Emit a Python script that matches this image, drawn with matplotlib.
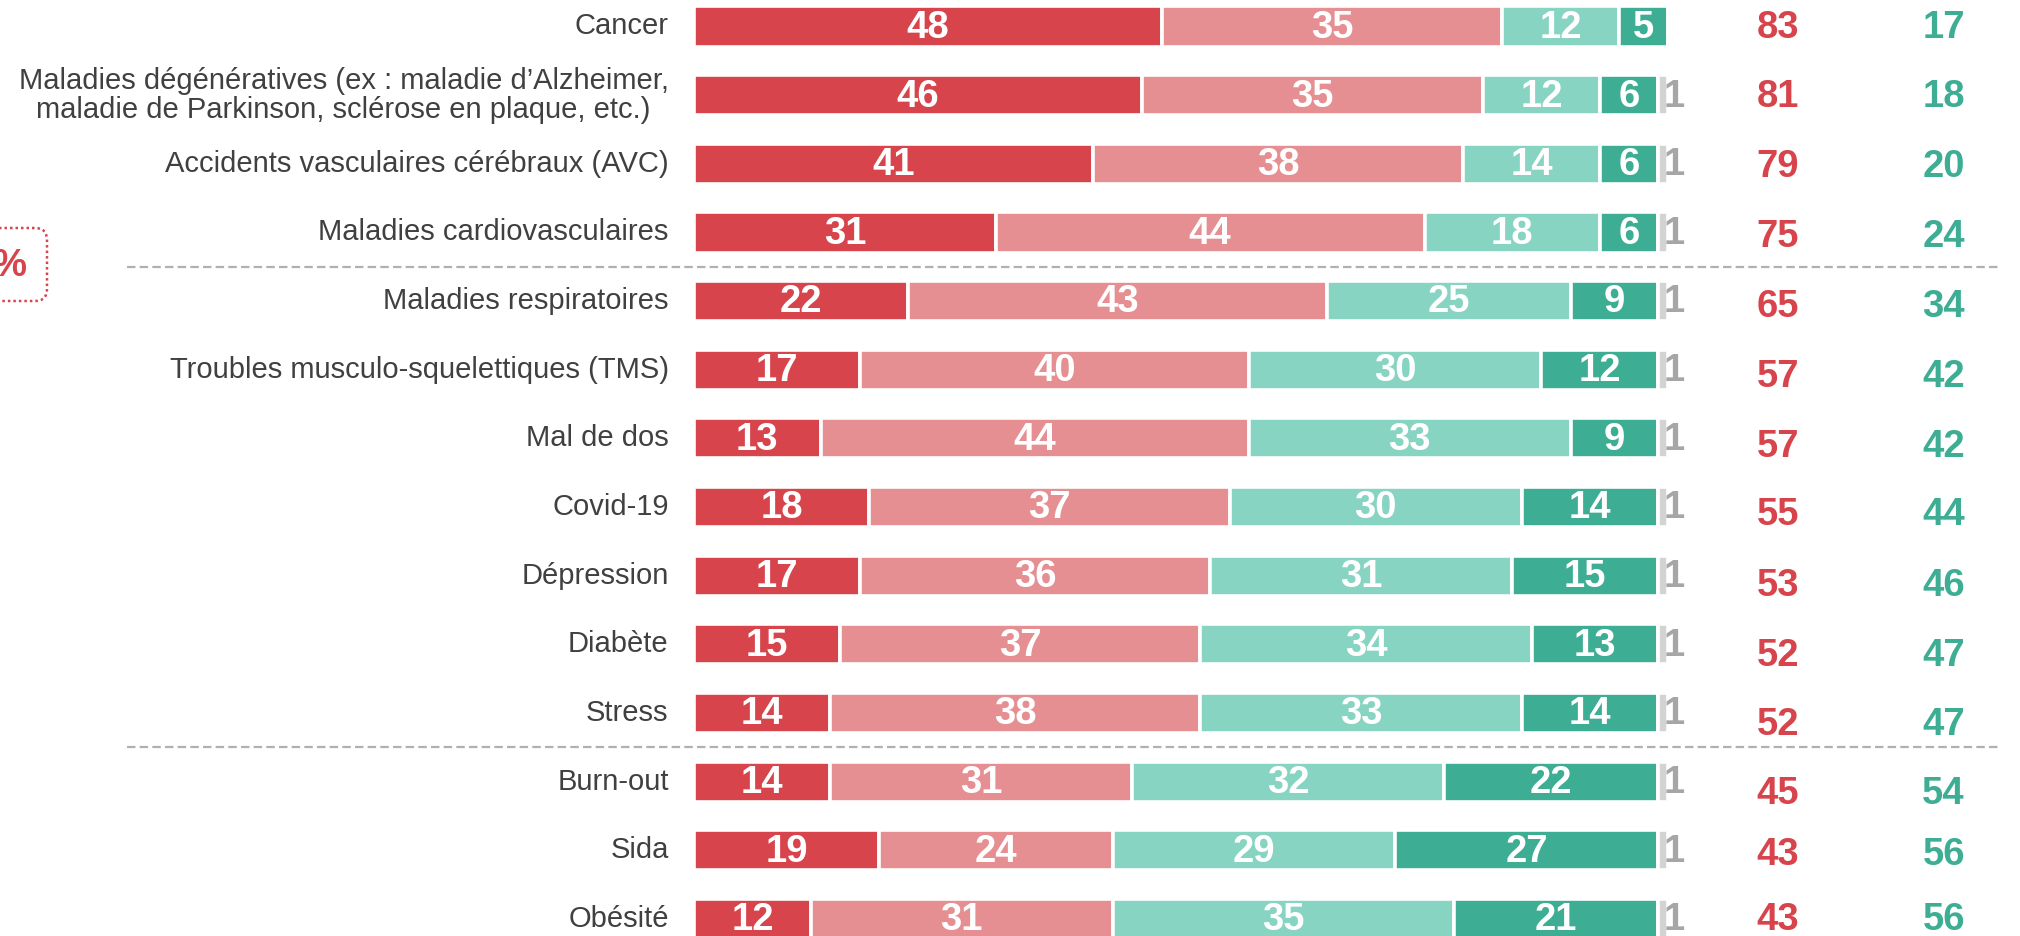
import numpy as np
import matplotlib
matplotlib.use("Agg")
import matplotlib.pyplot as plt
from matplotlib.patches import FancyBboxPatch

plt.rcParams["font.family"] = ["Liberation Sans", "DejaVu Sans"]

# ----- DATA -----
categories = [
    "Cancer",
    "Maladies dégénératives (ex : maladie d’Alzheimer,\nmaladie de Parkinson, sclérose en plaque, etc.)",
    "Accidents vasculaires cérébraux (AVC)",
    "Maladies cardiovasculaires",
    "Maladies respiratoires",
    "Troubles musculo-squelettiques (TMS)",
    "Mal de dos",
    "Covid-19",
    "Dépression",
    "Diabète",
    "Stress",
    "Burn-out",
    "Sida",
    "Obésité",
]
tres_grave = [48, 46, 41, 31, 22, 17, 13, 18, 17, 15, 14, 14, 19, 12]
plutot_grave = [35, 35, 38, 44, 43, 40, 44, 37, 36, 37, 38, 31, 24, 31]
plutot_pas_grave = [12, 12, 14, 18, 25, 30, 33, 30, 31, 34, 33, 32, 29, 35]
pas_du_tout_grave = [5, 6, 6, 6, 9, 12, 9, 14, 15, 13, 14, 22, 27, 21]
nsp = [0, 1, 1, 1, 1, 1, 1, 1, 1, 1, 1, 1, 1, 1]
total_grave = [83, 81, 79, 75, 65, 57, 57, 55, 53, 52, 52, 45, 43, 43]
total_pas_grave = [17, 18, 20, 24, 34, 42, 42, 44, 46, 47, 47, 54, 56, 56]
separators_after = [3, 10]

# ----- STYLE / LAYOUT -----
RED_DARK = "#d7444b"
RED_LIGHT = "#e68f93"
GREEN_LIGHT = "#88d4c3"
GREEN_DARK = "#3dad94"
GREY_BAR = "#d3d3d3"
GREY_TXT = "#a6a6a6"
LABEL_COL = "#404040"
seg_colors = [RED_DARK, RED_LIGHT, GREEN_LIGHT, GREEN_DARK]
NUM_SIZE = 27.5
# small vertical drift of the totals columns (row units)
total_shift = [0, 0.01, 0.03, 0.04, 0.06, 0.08, 0.1, 0.09, 0.13, 0.15, 0.16, 0.16, 0.05, -0.01]

W, H = 2020, 936
fig = plt.figure(figsize=(W / 100, H / 100), dpi=100)
ax = fig.add_axes([0, 0, 1, 1])

# pixel mapping: x=0 -> 694px, x=100 -> 1668px ; row 0 -> 26.5px, row step 68.65px
px_x = 100 / 974
x0_px = 694
ax.set_xlim(-x0_px * px_x, (W - x0_px) * px_x)
row_px = 68.65
ax.set_ylim((H - 26.5) / row_px, -26.5 / row_px)
ax.axis("off")

y = np.arange(len(categories))
segments = [tres_grave, plutot_grave, plutot_pas_grave, pas_du_tout_grave]
left = np.zeros(len(categories))
for vals, col in zip(segments, seg_colors):
    vals = np.array(vals, dtype=float)
    ax.barh(y, vals, left=left, height=0.585, color=col, edgecolor="white", linewidth=2.6)
    for yi, (l, v) in enumerate(zip(left, vals)):
        ax.text(l + v / 2, yi + 0.02, f"{int(v)}", ha="center", va="center",
                color="white", fontsize=NUM_SIZE, fontweight="bold")
    left += vals

# no-answer thin grey segments
nsp_arr = np.array(nsp, dtype=float)
ax.barh(y, nsp_arr, left=left, height=0.585, color=GREY_BAR, edgecolor="white", linewidth=2.6)
for yi, (l, v) in enumerate(zip(left, nsp_arr)):
    if v > 0:
        ax.text(l + v - 0.5, yi + 0.02, f"{int(v)}", ha="left", va="center",
                color=GREY_TXT, fontsize=NUM_SIZE, fontweight="bold")

# category labels
for yi, lab in enumerate(categories):
    ax.text(-2.6, yi, lab, ha="right", va="center", fontsize=21,
            color=LABEL_COL, multialignment="center", linespacing=1.05)

# totals columns
for yi in range(len(categories)):
    ax.text(111.3, yi + total_shift[yi] + 0.02, str(total_grave[yi]), ha="center", va="center",
            color=RED_DARK, fontsize=NUM_SIZE, fontweight="bold")
    ax.text(128.3, yi + total_shift[yi] + 0.02, str(total_pas_grave[yi]), ha="center", va="center",
            color=GREEN_DARK, fontsize=NUM_SIZE, fontweight="bold")

# dashed group separators
for s in separators_after:
    ax.hlines(s + 0.5, (127 - x0_px) * px_x, (2000 - x0_px) * px_x, colors="#b0b0b0",
              linewidth=1.6, linestyles=(0, (3.8, 1.9)))

# "%" box, partly cut by the left edge
ov = fig.add_axes([0, 0, 1, 1], facecolor="none")
ov.set_xlim(0, W)
ov.set_ylim(H, 0)
ov.axis("off")
box = FancyBboxPatch((-80, 228), 127, 73, boxstyle="round,pad=0,rounding_size=12",
                     fill=False, edgecolor=RED_DARK, linewidth=1.8, linestyle=(0, (1, 1.2)))
ov.add_patch(box)
ov.text(27, 266, "%", ha="right", va="center", color=RED_DARK, fontsize=NUM_SIZE, fontweight="bold")

plt.savefig("out.png", dpi=100)
